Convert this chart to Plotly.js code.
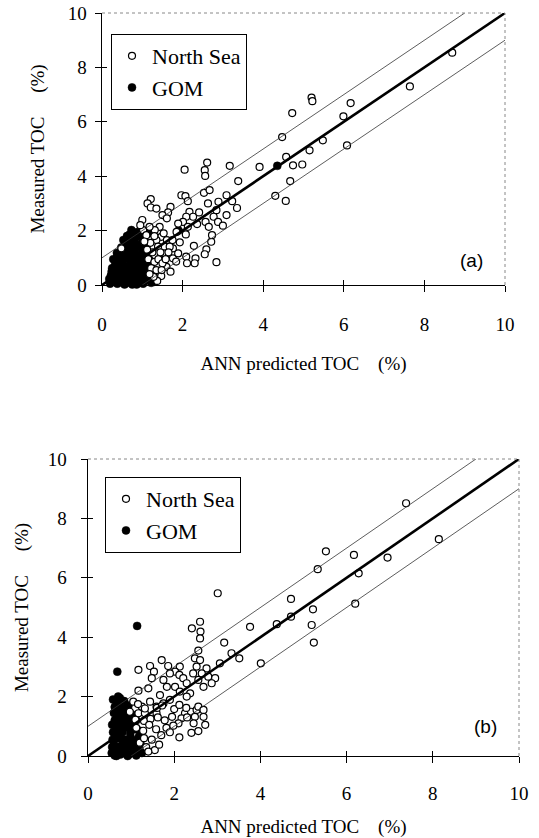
<!DOCTYPE html>
<html>
<head>
<meta charset="utf-8">
<script src="https://cdn.plot.ly/plotly-3.0.1.min.js"></script>
<style>html,body{margin:0;padding:0;background:#fff;}#chart{width:539px;height:838px;}</style>
</head>
<body>
<div id="chart"></div>
<script>
// ---------- data ----------
const axisTicks = [0, 2, 4, 6, 8, 10];
const axisTickText = ['0', '2', '4', '6', '8', '10'];
const xTitle = 'ANN predicted TOC\u00a0\u00a0\u00a0\u00a0(%)';
const yTitle = 'Measured TOC\u00a0\u00a0\u00a0\u00a0\u00a0(%)';
const seriesNames = ['North Sea', 'GOM'];
const panelLabels = ['(a)', '(b)'];

// 1:1 line and +/-1 % bands
const unityX = [0, 10];
const unityY = [0, 10];
const upperBandX = [0, 9];
const upperBandY = [1, 10];
const lowerBandX = [1, 10];
const lowerBandY = [0, 9];

// panel (a)
const topNorthSea = [
  [4.72,6.32],[4.47,5.44],[4.57,4.71],[4.74,4.40],[3.91,4.34],[4.30,3.28],[4.56,3.09],[4.67,3.82],
  [3.17,4.38],[3.38,3.82],[2.05,4.24],[2.61,4.50],[2.55,4.22],[2.56,4.01],[2.53,3.39],[2.67,3.49],
  [1.97,3.30],[2.07,3.27],[2.13,3.08],[1.21,3.16],[1.13,3.00],[1.21,2.85],[1.35,2.81],[1.70,2.87],
  [1.64,2.67],[1.50,2.57],[1.61,2.45],[1.00,2.39],[2.17,2.69],[2.26,2.51],[2.41,2.67],[2.63,3.00],
  [2.89,3.06],[3.09,3.30],[3.23,3.08],[3.35,2.83],[3.09,2.57],[2.84,2.75],[2.77,2.51],[2.88,2.32],
  [3.00,2.18],[2.57,2.32],[2.36,2.24],[2.65,2.14],[2.09,2.51],[2.01,2.32],[2.13,2.14],[1.89,2.26],
  [1.93,1.57],[2.08,1.86],[2.28,1.44],[2.59,1.31],[2.71,1.59],[2.73,1.83],[2.09,1.04],[2.32,0.98],
  [2.11,0.80],[2.30,0.80],[2.84,0.84],[2.55,1.13],[1.76,0.98],[1.84,0.86],[1.60,0.67],[1.70,0.49],
  [1.47,0.33],[1.37,0.15],[1.89,1.16],[1.76,1.35],[1.47,1.77],[1.35,1.65],[1.39,1.41],[1.53,1.90],
  [1.61,1.65],[1.55,1.16],[1.68,1.41],[1.43,2.14],[1.31,2.02],[1.18,2.14],[1.02,2.02],[1.10,1.83],
  [5.20,6.89],[5.22,6.76],[6.17,6.69],[5.99,6.20],[7.64,7.30],[8.69,8.54],[5.48,5.32],[5.15,4.95],
  [4.97,4.43],[6.08,5.13],
  [1.20,1.55],[1.25,1.20],[1.15,0.95],[1.30,0.85],[1.22,0.62],[1.35,0.55],[1.28,0.30],[1.40,0.95],
  [1.45,1.20],[1.12,1.30],[1.05,1.60],[1.50,0.80],[1.58,0.95],[1.65,1.20],[1.48,0.55],[1.18,0.40],
  [1.30,1.80],[0.95,2.20],[0.48,1.35],[1.75,1.65],[1.85,1.95]
];
const topGom = [
  [0.20,0.05],[0.22,0.35],[0.25,0.62],[0.30,0.15],[0.33,0.45],[0.35,0.85],[0.38,0.05],[0.40,0.30],
  [0.42,0.62],[0.45,1.05],[0.47,0.18],[0.50,0.48],[0.52,0.80],[0.55,1.20],[0.56,0.02],[0.58,0.33],
  [0.60,0.62],[0.62,0.98],[0.64,1.40],[0.66,0.12],[0.68,0.45],[0.70,0.75],[0.71,1.15],[0.73,1.62],
  [0.75,0.02],[0.77,0.28],[0.79,0.58],[0.80,0.92],[0.82,1.30],[0.84,1.75],[0.85,0.10],[0.87,0.42],
  [0.89,0.72],[0.90,1.08],[0.92,1.45],[0.94,0.20],[0.96,0.55],[0.98,0.88],[1.00,1.25],[1.02,0.05],
  [1.04,0.38],[1.06,0.70],[1.08,1.00],[1.12,0.18],[1.14,0.52],[1.18,0.30],[1.22,0.08],[0.28,0.95],
  [0.37,1.18],[0.48,1.38],[0.58,1.58],[0.68,1.85],[0.73,2.02],[0.88,1.95],[0.95,1.80],[0.62,1.80],
  [0.53,1.65],[1.90,2.00],[4.35,4.38],[1.15,1.90],[0.44,0.10],[0.86,0.02],[0.18,0.22],
  [0.31,0.30],[0.50,0.30],[0.68,0.25],[0.95,0.30],[1.28,0.35],[0.24,0.50],[0.42,0.48],[0.60,0.45],
  [0.88,0.52],[1.05,0.55],[1.25,0.55],[0.32,0.72],[0.52,0.70],[0.80,0.72],[0.98,0.70],[1.16,0.75],
  [0.44,0.88],[0.71,0.92],[0.90,0.90],[1.18,0.92],[0.38,1.05],[0.63,1.15],[0.80,1.12],[1.10,1.15],
  [0.56,1.30],[0.73,1.32],[1.05,1.35],[0.66,1.55],[0.83,1.52],[1.00,1.55],[0.72,1.75],[0.78,1.85],
  [0.26,0.18],[0.62,0.08],[0.92,0.10],[1.30,0.12],[0.36,0.60],[0.74,0.50]
];

// panel (b)
const bottomNorthSea = [
  [3.01,5.48],[2.41,4.30],[2.60,4.52],[2.61,4.19],[2.60,3.96],[3.16,3.82],[3.76,4.35],[4.71,5.29],
  [4.71,4.69],[4.38,4.44],[3.33,3.46],[3.51,3.29],[4.01,3.12],[3.06,3.12],[2.56,3.55],[2.48,3.29],
  [2.60,3.23],[2.52,3.01],[2.75,2.95],[2.64,2.78],[2.79,2.67],[2.95,2.62],[2.87,2.45],[2.68,2.33],
  [2.56,2.56],[2.44,2.78],[1.17,2.90],[1.44,3.03],[1.71,3.23],[1.86,3.03],[1.53,2.84],[1.48,2.62],
  [1.40,2.28],[2.13,3.01],[2.02,2.84],[2.12,2.73],[2.21,2.62],[2.02,2.33],[2.29,2.45],[2.13,2.17],
  [2.37,2.11],[2.29,2.00],[1.90,2.78],[1.75,2.56],[1.83,2.33],[1.67,2.05],[1.90,1.89],[1.75,1.77],
  [1.59,1.66],[1.17,2.20],[1.05,1.83],[1.25,1.66],[1.44,1.83],[1.17,1.44],[0.97,1.49],[1.32,1.44],
  [1.59,1.44],[2.25,1.44],[2.39,1.49],[2.52,1.55],[2.68,1.32],[2.48,1.32],[2.17,1.27],
  [7.38,8.51],[5.52,6.89],[5.33,6.29],[6.17,6.77],[6.95,6.68],[6.28,6.15],[8.14,7.30],[5.22,4.94],
  [5.19,4.41],[5.24,3.82],[6.20,5.13],
  [1.16,1.75],[1.32,1.60],[1.60,1.62],[1.72,1.70],[2.00,1.58],[2.12,1.72],[2.28,1.62],[2.56,1.66],
  [2.68,1.55],[1.10,1.22],[1.30,1.18],[1.45,1.25],[1.62,1.30],[1.78,1.20],[1.95,1.32],[2.10,1.10],
  [2.30,1.30],[2.45,1.10],[2.72,1.05],[1.12,0.95],[1.28,0.85],[1.42,1.05],[1.58,0.90],[1.82,0.95],
  [1.98,1.02],[2.12,0.63],[2.40,0.78],[2.56,0.84],[1.20,0.45],[1.35,0.30],[1.48,0.55],[1.55,0.20],
  [1.65,0.38],[1.40,0.15],[1.70,0.70],[1.90,0.80],[1.30,0.60]
];
const bottomGom = [
  [0.55,0.10],[0.60,0.40],[0.58,0.80],[0.62,1.20],[0.65,0.20],[0.70,0.60],[0.72,1.00],[0.68,1.40],
  [0.75,0.05],[0.78,0.35],[0.80,0.80],[0.76,1.25],[0.82,1.60],[0.85,0.15],[0.88,0.55],[0.90,1.05],
  [0.86,1.35],[0.95,0.30],[0.98,0.75],[1.00,1.15],[0.93,1.50],[1.05,0.10],[1.08,0.50],[1.10,0.90],
  [1.15,0.25],[1.18,0.65],[1.22,0.40],[1.25,0.10],[0.62,1.65],[0.58,1.90],[0.72,1.75],[0.66,0.00],
  [0.74,1.95],[0.92,0.00],[1.02,1.40],[1.12,1.20],[0.84,1.85],[0.64,0.95],[0.57,0.55],[0.70,2.00],
  [0.66,1.83],[0.68,1.55],[0.68,2.84],[1.14,4.38],
  [0.56,0.30],[0.70,0.30],[0.88,0.30],[1.05,0.35],[0.64,0.65],[0.82,0.55],[0.98,0.50],[1.14,0.45],
  [0.56,1.05],[0.70,0.85],[0.86,0.95],[1.02,0.90],[1.20,0.85],[0.60,1.45],[0.74,1.50],[0.90,1.25],
  [1.06,1.20],[0.78,1.05],[0.95,0.05],[1.12,0.02],[0.62,0.02],[0.82,0.10],[1.00,0.60],[0.94,1.70]
];

// ---------- styling ----------
const serif = 'Liberation Serif';
const W = 539, H = 838;
const topPx = {x0: 102, x1: 505, y0: 285, y1: 13};
const botPx = {x0: 88, x1: 519, y0: 756, y1: 459};
const dom = p => ({x: [p.x0 / W, p.x1 / W], y: [1 - p.y0 / H, 1 - p.y1 / H]});
const topDom = dom(topPx), botDom = dom(botPx);

function mainAxis(domain, anchor, isX, standoffLbl, titleStandoff) {
  return {
    domain: domain, anchor: anchor, range: [0, 10],
    tickmode: 'array', tickvals: axisTicks, ticktext: axisTickText,
    ticks: 'outside', ticklen: 6, tickwidth: 1, tickcolor: '#000',
    showline: true, linecolor: '#000', linewidth: 1.4,
    showgrid: false, zeroline: false, fixedrange: true,
    tickfont: {family: serif, size: 19, color: '#000'}, ticklabelstandoff: standoffLbl,
    title: {text: isX ? xTitle : yTitle, font: {family: serif, size: 19, color: '#000'}, standoff: titleStandoff}
  };
}
function overlayAxis(domain, anchor, over) {
  return {
    domain: domain, anchor: anchor, overlaying: over, range: [0, 10],
    tickmode: 'array', tickvals: axisTicks, ticks: 'inside', ticklen: 5, tickwidth: 1, tickcolor: '#000',
    showticklabels: false, showline: false, showgrid: false, zeroline: false, fixedrange: true
  };
}

function refLines(xa, ya) {
  const thin = {color: '#333', width: 0.8};
  return [
    {x: upperBandX, y: upperBandY, xaxis: xa, yaxis: ya, mode: 'lines', line: thin, showlegend: false, hoverinfo: 'skip'},
    {x: lowerBandX, y: lowerBandY, xaxis: xa, yaxis: ya, mode: 'lines', line: thin, showlegend: false, hoverinfo: 'skip'},
    {x: unityX, y: unityY, xaxis: xa, yaxis: ya, mode: 'lines', line: {color: '#000', width: 2.6}, showlegend: false, hoverinfo: 'skip'}
  ];
}
function pts(arr, name, xa, ya, filled, legend) {
  return {
    x: arr.map(p => p[0]), y: arr.map(p => p[1]), xaxis: xa, yaxis: ya, name: name, legend: legend,
    mode: 'markers', type: 'scatter', cliponaxis: false,
    legendrank: filled ? 2 : 1,
    marker: filled ? {symbol: 'circle', size: 8, color: '#000', line: {color: '#000', width: 0.5}}
                   : {symbol: 'circle', size: 7, color: '#fff', line: {color: '#000', width: 1.2}}
  };
}

const data = [].concat(
  refLines('x3', 'y3'),
  [pts(topGom, seriesNames[1], 'x', 'y', true, 'legend'), pts(topNorthSea, seriesNames[0], 'x', 'y', false, 'legend')],
  refLines('x4', 'y4'),
  [pts(bottomGom, seriesNames[1], 'x2', 'y2', true, 'legend2'), pts(bottomNorthSea, seriesNames[0], 'x2', 'y2', false, 'legend2')]
);

function frame(xr, yr) {
  const st = {color: '#888', width: 1, dash: 'dot'};
  return [
    {type: 'line', xref: xr + ' domain', yref: yr + ' domain', x0: 0, x1: 1, y0: 1, y1: 1, line: st},
    {type: 'line', xref: xr + ' domain', yref: yr + ' domain', x0: 1, x1: 1, y0: 0, y1: 1, line: st}
  ];
}
const legendStyle = (x, y) => ({
  x: x, y: y, xanchor: 'left', yanchor: 'top', xref: 'paper', yref: 'paper',
  bgcolor: '#fff', bordercolor: '#000', borderwidth: 1,
  font: {family: serif, size: 22, color: '#000'}, traceorder: 'normal', itemwidth: 30, tracegroupgap: 0
});

const layout = {
  width: W, height: H, margin: {l: 0, r: 0, t: 0, b: 0},
  paper_bgcolor: '#fff', plot_bgcolor: 'rgba(0,0,0,0)',
  showlegend: true,
  xaxis: mainAxis(topDom.x, 'y', true, 16, 22),
  yaxis: mainAxis(topDom.y, 'x', false, 4, 18),
  xaxis2: mainAxis(botDom.x, 'y2', true, 14, 20),
  yaxis2: mainAxis(botDom.y, 'x2', false, 10, 14),
  xaxis3: overlayAxis(topDom.x, 'y3', 'x'),
  yaxis3: overlayAxis(topDom.y, 'x3', 'y'),
  xaxis4: overlayAxis(botDom.x, 'y4', 'x2'),
  yaxis4: overlayAxis(botDom.y, 'x4', 'y2'),
  legend: legendStyle(111 / W, 1 - 34 / H),
  legend2: legendStyle(105 / W, 1 - 477 / H),
  shapes: [].concat(frame('x', 'y'), frame('x2', 'y2')),
  annotations: [
    {text: panelLabels[0], xref: 'x domain', yref: 'y domain', x: 0.918, y: 0.09, xanchor: 'center', yanchor: 'middle', showarrow: false,
     font: {family: 'Liberation Sans', size: 19, color: '#000'}},
    {text: panelLabels[1], xref: 'x2 domain', yref: 'y2 domain', x: 0.923, y: 0.10, xanchor: 'center', yanchor: 'middle', showarrow: false,
     font: {family: 'Liberation Sans', size: 19, color: '#000'}}
  ]
};

Plotly.newPlot('chart', data, layout, {staticPlot: true, displayModeBar: false});
</script>
</body>
</html>
